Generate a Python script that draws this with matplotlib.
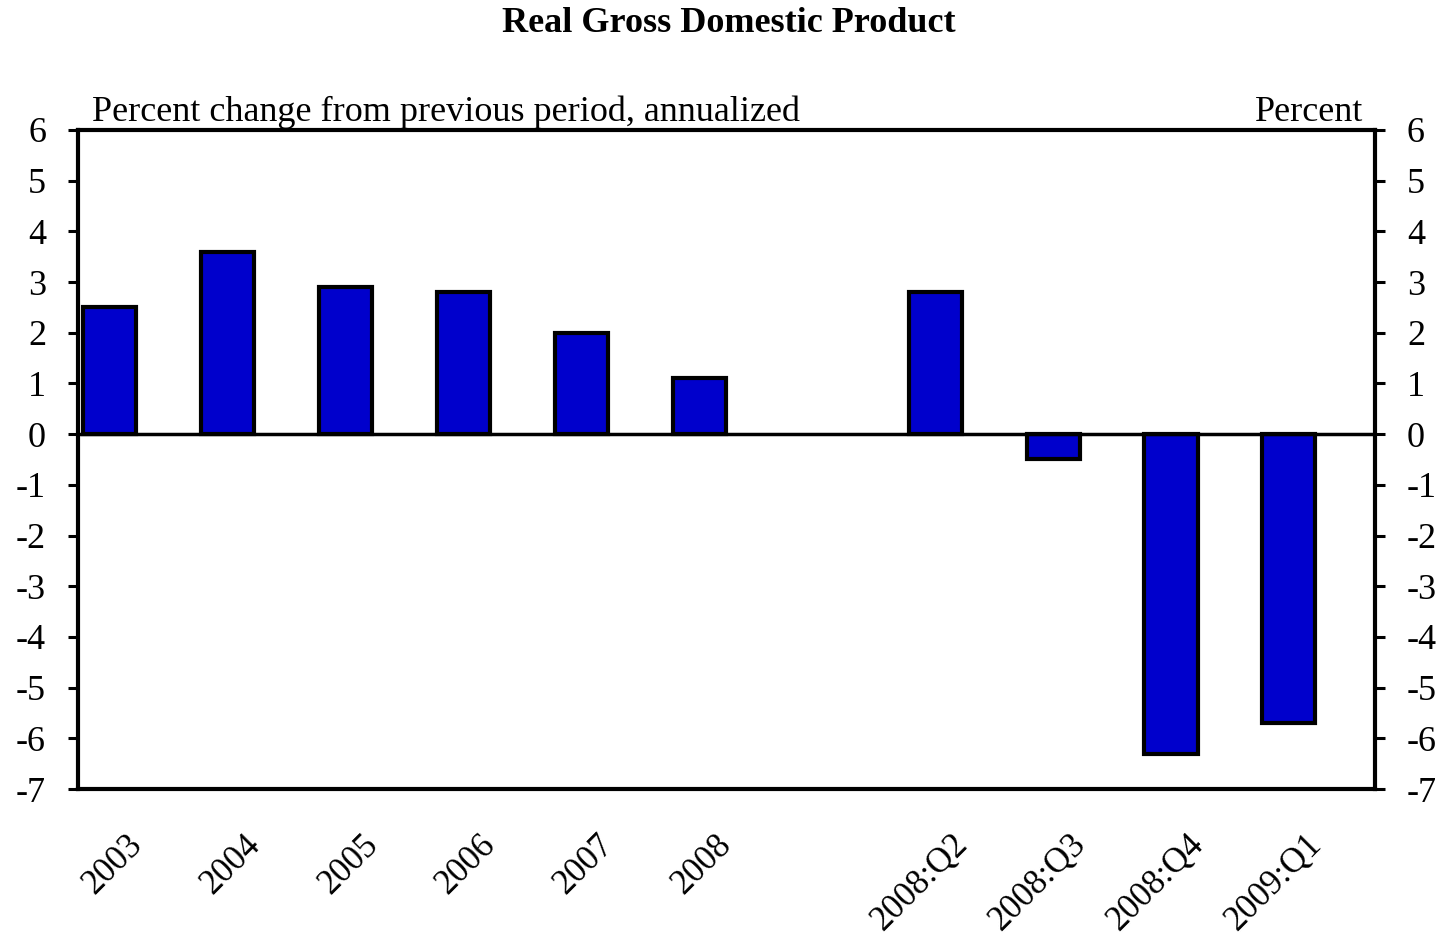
import numpy as np
import matplotlib.pyplot as plt
from matplotlib.transforms import ScaledTranslation

plt.rcParams['font.family'] = ['Liberation Serif', 'DejaVu Serif']
plt.rcParams['axes.unicode_minus'] = False

# Dane
labels = ['2003', '2004', '2005', '2006', '2007', '2008', '',
          '2008:Q2', '2008:Q3', '2008:Q4', '2009:Q1']
values = [2.5, 3.6, 2.9, 2.8, 2.0, 1.1, np.nan, 2.8, -0.5, -6.3, -5.7]

x = np.arange(len(labels))

fig = plt.figure(figsize=(14.42, 9.35), dpi=100)
ax = fig.add_axes([78 / 1442, 1 - 789 / 935, 1297 / 1442, 659 / 935])

vals = np.array(values)
mask = ~np.isnan(vals)
ax.bar(x[mask], vals[mask], width=0.45, color='#0000CC',
       edgecolor='black', linewidth=3, zorder=2)
ax.axhline(0, color='black', linewidth=2.5, zorder=3)

ax.set_xlim(-0.27, 10.73)
ax.set_ylim(-7, 6)
ax.set_yticks(np.arange(-7, 7, 1))
ax.tick_params(axis='y', which='both', direction='out', length=7, width=2.2,
               labelsize=26, pad=16, left=True, right=True,
               labelleft=True, labelright=True)
ax.set_xticks(x[mask])
ax.set_xticklabels([l for l, m in zip(labels, mask) if m], rotation=45,
                   ha='right', va='top', fontsize=25)
ax.tick_params(axis='x', length=0, pad=28)
off = ScaledTranslation(39 / 100, 0, fig.dpi_scale_trans)
for lab in ax.get_xticklabels():
    lab.set_transform(lab.get_transform() + off)

for s in ax.spines.values():
    s.set_linewidth(3)

fig.text(729 / 1442, 1 - 23 / 935, 'Real Gross Domestic Product',
         ha='center', va='center', fontsize=26, fontweight='bold')
fig.text(92 / 1442, 1 - 121 / 935,
         'Percent change from previous period, annualized',
         ha='left', va='baseline', fontsize=26)
fig.text(1363 / 1442, 1 - 121 / 935, 'Percent',
         ha='right', va='baseline', fontsize=26)

fig.savefig('out.png', dpi=100)
